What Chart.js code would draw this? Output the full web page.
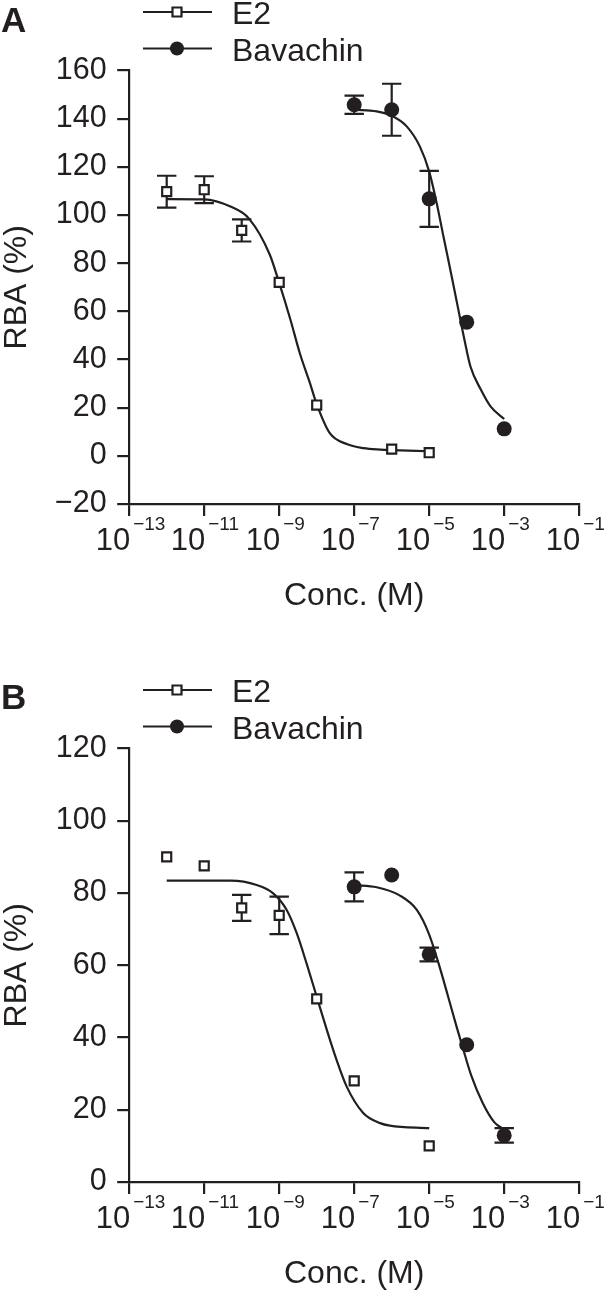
<!DOCTYPE html>
<html>
<head>
<meta charset="utf-8">
<script src="https://cdn.jsdelivr.net/npm/chart.js@4.4.1/dist/chart.umd.min.js"></script>
<style>
  body { margin: 0; background: #fff; }
  #wrap { position: relative; width: 608px; height: 1290px; }
  canvas { position: absolute; left: 0; }
  #chartA { top: 0; }
  #chartB { top: 678px; }
</style>
</head>
<body>
<div id="wrap">
  <canvas id="chartA" width="608" height="612"></canvas>
  <canvas id="chartB" width="608" height="612"></canvas>
</div>
<script>
// powers of ten labelled on the x axis
const xTickExps = [-13, -11, -9, -7, -5, -3, -1];

// panel A - measured points (conc in M, RBA %)
const aE2Conc = [1e-12, 1e-11, 1e-10, 1e-9, 1e-8, 1e-6, 1e-5];
const aE2Rba = [109.7, 110.5, 93.6, 72.0, 21.1, 2.8, 1.3];
const aE2Err = [6.6, 5.6, 4.6, 0, 0, 0, 0];
const aBavConc = [1e-7, 1e-6, 1e-5, 1e-4, 1e-3];
const aBavRba = [145.8, 143.7, 106.7, 55.5, 11.2];
const aBavErr = [3.8, 10.8, 11.6, 0, 0];

// panel A - fitted curves (log10 conc)
const aE2FitLog = [-12, -11, -10.3, -9.8, -9.25, -9.0, -8.7, -8.45, -8.18, -8.0, -7.65, -7.2, -6.75, -6.3, -6, -5];
const aE2FitRba = [106.6, 106.5, 103.5, 98.4, 83.5, 71.8, 56.5, 42.6, 30.2, 21.5, 9.4, 4.9, 3.2, 2.6, 2.4, 1.9];
const aBavFitLog = [-7, -6.4, -6, -5.6, -5.25, -5.0, -4.8, -4.62, -4.4, -4.22, -4.06, -3.9, -3.62, -3.36, -3.0];
const aBavFitRba = [143.7, 143.0, 141.2, 136.8, 128.5, 118, 104.9, 91.1, 74.5, 60.5, 48.2, 37.1, 27.4, 20.4, 15.3];

// panel B - measured points
const bE2Conc = [1e-12, 1e-11, 1e-10, 1e-9, 1e-8, 1e-7, 1e-5];
const bE2Rba = [90.0, 87.5, 75.9, 73.8, 50.7, 28.0, 10.0];
const bE2Err = [0, 0, 3.6, 5.2, 0, 0, 0];
const bBavConc = [1e-7, 1e-6, 1e-5, 1e-4, 1e-3];
const bBavRba = [81.7, 85.0, 63.0, 38.0, 12.9];
const bBavErr = [4.0, 0, 1.9, 0, 2.0];

// panel B - fitted curves
const bE2FitLog = [-12, -10.3, -9.6, -9.16, -8.8, -8.53, -8.27, -8.0, -7.73, -7.47, -7.2, -6.76, -6.31, -6.05, -5];
const bE2FitRba = [83.4, 83.4, 82.2, 79.9, 75.3, 68.8, 60.5, 51.3, 42.1, 33.8, 26.4, 19.1, 16.3, 15.6, 14.9];
const bBavFitLog = [-7, -6.4, -5.8, -5.33, -5.0, -4.75, -4.5, -4.27, -4.1, -3.88, -3.57, -3.26, -3.0];
const bBavFitRba = [82.2, 81.6, 79.4, 75.3, 68.5, 60.5, 51.5, 43, 37, 29.5, 21.8, 16.5, 14.5];

const ink = '#231f20';
const family = '"Liberation Sans", Arial, sans-serif';
Chart.defaults.font.family = family;
Chart.defaults.color = ink;

const toPoints = (xs, ys) => xs.map((x, i) => ({ x: x, y: ys[i] }));
const toFit = (logs, ys) => logs.map((l, i) => ({ x: Math.pow(10, l), y: ys[i] }));

// error bars under the markers
const errorBarPlugin = {
  id: 'errorBars',
  beforeDatasetsDraw(chart) {
    const { ctx, scales: { x, y } } = chart;
    ctx.save();
    ctx.strokeStyle = ink;
    ctx.lineWidth = 2.2;
    chart.data.datasets.forEach(ds => {
      if (!ds.errors) return;
      ds.data.forEach((pt, i) => {
        const err = ds.errors[i];
        if (!err) return;
        const px = x.getPixelForValue(pt.x);
        const top = y.getPixelForValue(pt.y + err);
        const bot = y.getPixelForValue(pt.y - err);
        ctx.beginPath();
        ctx.moveTo(px, top); ctx.lineTo(px, bot);
        ctx.moveTo(px - 9.7, top); ctx.lineTo(px + 9.7, top);
        ctx.moveTo(px - 9.7, bot); ctx.lineTo(px + 9.7, bot);
        ctx.stroke();
      });
    });
    ctx.restore();
  }
};

// panel letter, legend, 10^n labels and axis titles
const decorPlugin = {
  id: 'decor',
  afterDraw(chart, args, opts) {
    const { ctx, chartArea: area, scales: { x } } = chart;
    ctx.save();
    ctx.fillStyle = ink;
    ctx.strokeStyle = ink;
    ctx.textBaseline = 'alphabetic';

    ctx.font = 'bold 35px ' + family;
    ctx.textAlign = 'left';
    ctx.fillText(opts.letter, 1, opts.letterBase);

    xTickExps.forEach(e => {
      const px = x.getPixelForValue(Math.pow(10, e));
      ctx.font = '31px ' + family;
      ctx.textAlign = 'right';
      ctx.fillText('10', px + 1, 550);
      ctx.font = '19px ' + family;
      ctx.textAlign = 'left';
      ctx.fillText('\u2212' + Math.abs(e), px + 4, 529.5);
    });

    ctx.font = '32px ' + family;
    ctx.textAlign = 'center';
    ctx.fillText('Conc. (M)', (area.left + area.right) / 2, 605);
    ctx.save();
    ctx.translate(26, (area.top + area.bottom) / 2);
    ctx.rotate(-Math.PI / 2);
    ctx.fillText('RBA (%)', 0, 0);
    ctx.restore();

    // legend
    const rows = [
      { text: 'E2', y: 12, base: 24, square: true },
      { text: 'Bavachin', y: 48.5, base: 61, square: false }
    ];
    rows.forEach(r => {
      ctx.lineWidth = 2.2;
      ctx.beginPath();
      ctx.moveTo(143, r.y); ctx.lineTo(212, r.y);
      ctx.stroke();
      ctx.beginPath();
      if (r.square) {
        ctx.rect(177 - 4.5, r.y - 4.5, 9, 9);
        ctx.fillStyle = '#fff';
        ctx.fill();
        ctx.stroke();
      } else {
        ctx.arc(177, r.y, 7, 0, Math.PI * 2);
        ctx.fillStyle = ink;
        ctx.fill();
      }
      ctx.fillStyle = ink;
      ctx.font = '32px ' + family;
      ctx.textAlign = 'left';
      ctx.fillText(r.text, 232, r.base);
    });
    ctx.restore();
  }
};

function makeChart(id, p) {
  const axisLine = { color: ink, width: 2.2 };
  const tickMarks = { drawOnChartArea: false, drawTicks: true, tickLength: 12, color: ink, lineWidth: 2.2 };
  return new Chart(document.getElementById(id), {
    type: 'scatter',
    data: {
      datasets: [
        {
          label: 'E2', data: toPoints(p.e2Conc, p.e2Rba), errors: p.e2Err,
          pointStyle: 'rect', pointRadius: 6.4, pointBackgroundColor: '#fff',
          pointBorderColor: ink, pointBorderWidth: 2.2, showLine: false
        },
        {
          label: 'Bavachin', data: toPoints(p.bavConc, p.bavRba), errors: p.bavErr,
          pointStyle: 'circle', pointRadius: 7.5, pointBackgroundColor: ink,
          pointBorderWidth: 0, showLine: false
        },
        {
          label: 'E2 fit', data: toFit(p.e2FitLog, p.e2FitRba), showLine: true, pointRadius: 0,
          borderColor: ink, borderWidth: 2.2, cubicInterpolationMode: 'monotone'
        },
        {
          label: 'Bavachin fit', data: toFit(p.bavFitLog, p.bavFitRba), showLine: true, pointRadius: 0,
          borderColor: ink, borderWidth: 2.2, cubicInterpolationMode: 'monotone'
        }
      ]
    },
    options: {
      responsive: false,
      animation: false,
      layout: { padding: { top: 70.5, right: 28.8, bottom: 0, left: 0 } },
      plugins: {
        legend: { display: false },
        tooltip: { enabled: false },
        decor: { letter: p.letter, letterBase: p.letterBase }
      },
      scales: {
        x: {
          type: 'logarithmic', min: 1e-13, max: 1e-1,
          afterBuildTicks: s => { s.ticks = xTickExps.map(e => ({ value: Math.pow(10, e) })); },
          afterFit: s => { s.height = 108; },
          ticks: { display: false },
          grid: tickMarks,
          border: axisLine
        },
        y: {
          min: p.yMin, max: p.yMax,
          afterFit: s => { s.width = 129.2; },
          ticks: {
            stepSize: 20, padding: 10.5, color: ink, font: { size: 30.5 },
            callback: v => v < 0 ? '\u2212' + Math.abs(v) : v
          },
          grid: tickMarks,
          border: axisLine
        }
      }
    },
    plugins: [errorBarPlugin, decorPlugin]
  });
}

makeChart('chartA', {
  letter: 'A', letterBase: 32, yMin: -20, yMax: 160,
  e2Conc: aE2Conc, e2Rba: aE2Rba, e2Err: aE2Err,
  bavConc: aBavConc, bavRba: aBavRba, bavErr: aBavErr,
  e2FitLog: aE2FitLog, e2FitRba: aE2FitRba,
  bavFitLog: aBavFitLog, bavFitRba: aBavFitRba
});

makeChart('chartB', {
  letter: 'B', letterBase: 30.5, yMin: 0, yMax: 120,
  e2Conc: bE2Conc, e2Rba: bE2Rba, e2Err: bE2Err,
  bavConc: bBavConc, bavRba: bBavRba, bavErr: bBavErr,
  e2FitLog: bE2FitLog, e2FitRba: bE2FitRba,
  bavFitLog: bBavFitLog, bavFitRba: bBavFitRba
});
</script>
</body>
</html>
